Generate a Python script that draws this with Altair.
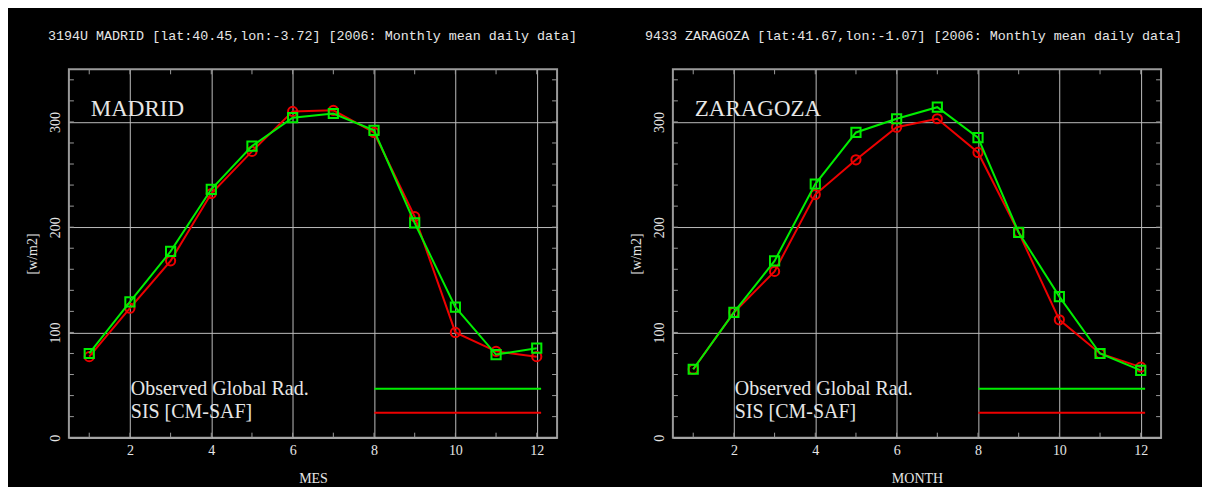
import altair as alt
import pandas as pd

months = list(range(1, 13))
madrid_obs = [80, 129, 177, 236, 277, 304, 308, 292, 204, 124, 79, 85]
madrid_sis = [77, 123, 168, 232, 272, 310, 311, 290, 210, 100, 82, 77]
zaragoza_obs = [65, 119, 168, 241, 290, 303, 314, 285, 195, 134, 80, 64]
zaragoza_sis = [65, 119, 158, 231, 264, 295, 303, 271, 195, 112, 80, 67]

series_names = ["Observed Global Rad.", "SIS [CM-SAF]"]
x_labels = [2, 4, 6, 8, 10, 12]
y_labels = [0, 100, 200, 300]
x_minor = list(range(1, 13))
y_minor = list(range(20, 350, 20))

titles = [
    "3194U MADRID [lat:40.45,lon:-3.72] [2006: Monthly mean daily data]",
    "9433 ZARAGOZA [lat:41.67,lon:-1.07] [2006: Monthly mean daily data]",
]
cities = ["MADRID", "ZARAGOZA"]
x_titles = ["MES", "MONTH"]
y_title = "[w/m2]"

W, H = 489, 369
GREEN = "#00ee00"
RED = "#ee0000"
TEXT = "#e6e6e6"
GRID = "#bdbdbd"
FRAME = "#9a9a9a"
SERIF = "Liberation Serif"

xscale = alt.Scale(domain=[0.5, 12.5], nice=False, zero=False)
yscale = alt.Scale(domain=[0, 350], nice=False, zero=False)


def panel(title, city, xtitle, obs, sis, title_dx):
    df = pd.DataFrame({"month": months, "obs": obs, "sis": sis})

    xaxis = alt.Axis(values=x_labels, grid=True, gridColor=GRID, gridWidth=1,
                     domain=False, ticks=False, labelColor=TEXT, labelFont=SERIF,
                     labelFontSize=14, labelPadding=6, title=xtitle,
                     titleColor=TEXT, titleFont=SERIF, titleFontSize=14,
                     titleFontWeight="normal", titleX=W / 2, titleY=41,
                     titleBaseline="middle", titleAlign="center")
    yaxis = alt.Axis(values=y_labels, grid=True, gridColor=GRID, gridWidth=1,
                     domain=False, ticks=False, labelColor=TEXT, labelFont=SERIF,
                     labelFontSize=14, labelAngle=270, labelPadding=6,
                     title=y_title, titleColor=TEXT, titleFont=SERIF,
                     titleFontSize=14, titleFontWeight="normal", titleAngle=270,
                     titleX=-36, titleY=H / 2, titleBaseline="middle",
                     titleAlign="center")

    def X(f):
        return alt.X(f, scale=xscale, axis=xaxis)

    def Y(f):
        return alt.Y(f, scale=yscale, axis=yaxis)

    anchor = alt.Chart(pd.DataFrame({"a": [0]})).mark_rect(opacity=0).encode(
        x=alt.value(-60), x2=alt.value(W + 40), y=alt.value(-60), y2=alt.value(H + 44)
    )

    base = alt.Chart(df)
    sis_line = base.mark_line(color=RED, strokeWidth=2).encode(
        x=X("month:Q"), y=Y("sis:Q"))
    sis_pts = base.mark_point(shape="circle", filled=False, color=RED, size=85,
                              strokeWidth=2, opacity=1).encode(
        x=X("month:Q"), y=Y("sis:Q"))
    obs_line = base.mark_line(color=GREEN, strokeWidth=2).encode(
        x=X("month:Q"), y=Y("obs:Q"))
    obs_pts = base.mark_point(shape="square", filled=False, color=GREEN, size=85,
                              strokeWidth=2, opacity=1).encode(
        x=X("month:Q"), y=Y("obs:Q"))

    ydf = pd.DataFrame({"v": y_minor})
    xdf = pd.DataFrame({"v": x_minor})
    tick_style = dict(color=FRAME, strokeWidth=1)
    t_left = alt.Chart(ydf).mark_rule(**tick_style).encode(
        y=Y("v:Q"), x=alt.value(0), x2=alt.value(5))
    t_right = alt.Chart(ydf).mark_rule(**tick_style).encode(
        y=Y("v:Q"), x=alt.value(W - 5), x2=alt.value(W))
    t_bottom = alt.Chart(xdf).mark_rule(**tick_style).encode(
        x=X("v:Q"), y=alt.value(H - 5), y2=alt.value(H))
    t_top = alt.Chart(xdf).mark_rule(**tick_style).encode(
        x=X("v:Q"), y=alt.value(0), y2=alt.value(5))

    tdf = pd.DataFrame({"t": [title]})
    title_mark = alt.Chart(tdf).mark_text(
        align="left", baseline="middle", font="Liberation Mono", fontSize=13.4,
        color=TEXT).encode(x=alt.value(title_dx), y=alt.value(-33), text="t:N")

    cdf = pd.DataFrame({"t": [city]})
    city_mark = alt.Chart(cdf).mark_text(
        align="left", baseline="middle", font=SERIF, fontSize=23,
        color=TEXT).encode(x=alt.value(22), y=alt.value(40), text="t:N")

    ldf1 = pd.DataFrame({"t": [series_names[0]]})
    ldf2 = pd.DataFrame({"t": [series_names[1]]})
    leg_t1 = alt.Chart(ldf1).mark_text(align="left", baseline="middle", font=SERIF,
                                       fontSize=20, color=TEXT).encode(
        x=alt.value(62), y=alt.value(320), text="t:N")
    leg_t2 = alt.Chart(ldf2).mark_text(align="left", baseline="middle", font=SERIF,
                                       fontSize=20, color=TEXT).encode(
        x=alt.value(62), y=alt.value(343), text="t:N")
    leg_l1 = alt.Chart(ldf1).mark_rule(color=GREEN, strokeWidth=2).encode(
        x=alt.value(306), x2=alt.value(473), y=alt.value(320))
    leg_l2 = alt.Chart(ldf2).mark_rule(color=RED, strokeWidth=2).encode(
        x=alt.value(306), x2=alt.value(473), y=alt.value(344))

    return alt.layer(
        sis_line, anchor, t_left, t_right, t_bottom, t_top,
        sis_pts, obs_line, obs_pts,
        title_mark, city_mark, leg_t1, leg_t2, leg_l1, leg_l2,
    ).properties(width=W, height=H)


left = panel(titles[0], cities[0], x_titles[0], madrid_obs, madrid_sis, -21)
right = panel(titles[1], cities[1], x_titles[1], zaragoza_obs, zaragoza_sis, -28)

chart = alt.hconcat(left, right, spacing=116, bounds="flush").configure(
    background="black", padding=0
).configure_view(stroke=FRAME, strokeWidth=2)

chart.save("out.html", embed_options={"renderer": "svg", "actions": False})
